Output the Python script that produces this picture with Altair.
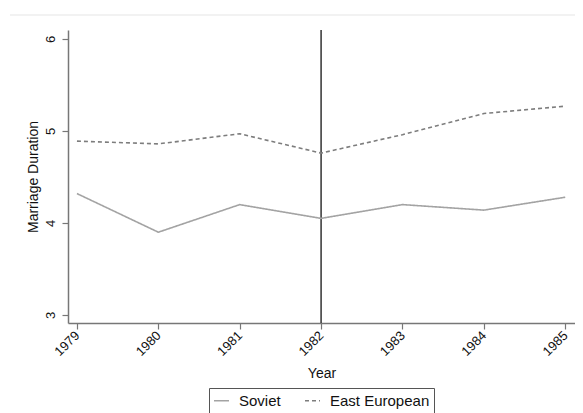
import altair as alt
import pandas as pd

years = [1979, 1980, 1981, 1982, 1983, 1984, 1985]
soviet = [4.32, 3.90, 4.20, 4.05, 4.20, 4.14, 4.28]
east_european = [4.89, 4.86, 4.97, 4.76, 4.96, 5.19, 5.27]
groups = ["Soviet", "East European"]
event_year = [1982]

df = pd.DataFrame({
    "Year": years * 2,
    "Value": soviet + east_european,
    "Group": [groups[0]] * len(years) + [groups[1]] * len(years),
})
ev = pd.DataFrame({"Year": event_year})

font = "Liberation Sans"
xscale = alt.Scale(domain=[1978.89, 1985.12], nice=False, zero=False)
yscale = alt.Scale(domain=[2.913, 6.098], nice=False, zero=False)

lines = alt.Chart(df).mark_line(strokeWidth=1.6).encode(
    x=alt.X("Year:Q", scale=xscale,
            axis=alt.Axis(values=years, format="d", labelAngle=-45, title="Year",
                          labelAlign="right", labelBaseline="middle",
                          labelPadding=4, titlePadding=8)),
    y=alt.Y("Value:Q", scale=yscale,
            axis=alt.Axis(values=[3, 4, 5, 6], labelAngle=-90, title="Marriage Duration",
                          labelAlign="center", labelBaseline="bottom",
                          labelPadding=5, titlePadding=4)),
    color=alt.Color("Group:N", scale=alt.Scale(domain=groups, range=["#a3a3a3", "#7d7d7d"]),
                    legend=alt.Legend(title=None, orient="none", legendX=141, legendY=358,
                                      direction="horizontal", symbolType="stroke",
                                      symbolStrokeWidth=1.6, symbolSize=225,
                                      labelFontSize=15, labelFont=font, labelColor="#111",
                                      labelOffset=9,
                                      strokeColor="#555", padding=4, columnPadding=20,
                                      fillColor="white")),
    strokeDash=alt.StrokeDash("Group:N",
                              scale=alt.Scale(domain=groups, range=[[1, 0], [4, 3]]),
                              legend=None),
)

vline = alt.Chart(ev).mark_rule(color="#333333", strokeWidth=1.5).encode(
    x=alt.X("Year:Q", scale=xscale),
)

topline = alt.Chart(ev).mark_rule(color="#eeeeee", strokeWidth=1.5).encode(
    x=alt.value(-58), x2=alt.value(507), y=alt.value(-15)
)

chart = alt.layer(topline, vline, lines).properties(
    width=507, height=293,
    autosize=alt.AutoSizeParams(type="none"),
    padding={"left": 60, "top": 22, "right": 0, "bottom": 90},
).configure_view(stroke=None).configure_axis(
    grid=False, domainColor="#777777", tickColor="#777777", tickSize=6,
    labelFont=font, titleFont=font, labelFontSize=13, titleFontSize=14,
    labelColor="#111111", titleColor="#111111", titleFontWeight="normal",
).configure_axisX(domainWidth=1.5, tickWidth=1.2).configure_axisY(domainWidth=1.5, tickWidth=1.2)

chart.save("out.html", embed_options={"renderer": "svg", "actions": False})
